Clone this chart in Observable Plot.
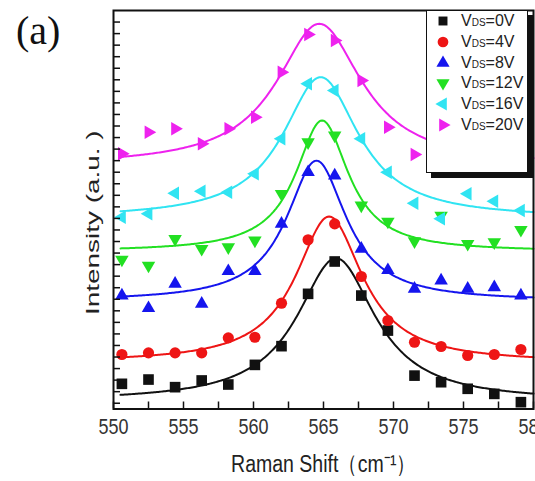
<!DOCTYPE html>
<html><head><meta charset="utf-8">
<script src="https://cdn.jsdelivr.net/npm/d3@7"></script>
<script src="https://cdn.jsdelivr.net/npm/@observablehq/plot@0.6"></script>
<style>
body{margin:0;background:#fff;}
#wrap{position:relative;width:535px;height:481px;overflow:hidden;font-family:"Liberation Sans",Arial,sans-serif;}
#panel{position:absolute;left:16px;top:11px;line-height:1;font-family:"Liberation Serif","Times New Roman",serif;font-size:40px;color:#111;}
#legend{position:absolute;left:426px;top:10px;width:100px;height:161px;border:1.5px solid #111;background:#fff;box-shadow:5px 5px 0 #111;}
.row{position:absolute;left:0;height:20px;display:flex;align-items:center;color:#222;font-size:16px;white-space:nowrap;}
.row svg{margin-left:8px;margin-right:10px;}
.sub{font-size:10px;}
</style></head><body><div id="wrap"><div id="panel">(a)</div></div>
<script>
// ---- data ----
const ramanShift = [550.6, 552.5, 554.4, 556.3, 558.2, 560.1, 562.0, 563.9, 565.8, 567.7, 569.6, 571.5, 573.4, 575.3, 577.2, 579.1];
const vds0  = [1.68, 2.05, 1.39, 1.97, 1.62, 3.32, 4.94, 9.47, 12.27, 9.32, 6.29, 2.39, 1.82, 1.25, 0.81, 0.09];
const vds4  = [4.22, 4.36, 4.36, 4.36, 5.66, 5.71, 8.66, 14.15, 15.53, 10.97, 7.16, 5.28, 4.91, 4.13, 4.22, 4.65];
const vds8  = [9.32, 8.23, 10.34, 8.61, 11.43, 11.43, 15.53, 20.0, 19.71, 13.37, 11.52, 9.90, 10.62, 9.90, 10.04, 9.32];
const vds12 = [12.44, 11.92, 14.23, 13.37, 13.51, 14.09, 18.13, 22.60, 23.18, 17.12, 15.73, 14.03, 16.25, 13.80, 13.94, 15.01];
const vds16 = [16.10, 16.40, 18.18, 18.35, 18.27, 19.86, 22.89, 27.65, 27.07, 22.89, 20.0, 17.32, 15.97, 18.13, 17.49, 16.68];
const vds20 = [21.59, 23.46, 23.76, 22.46, 23.76, 24.76, 28.66, 31.92, 31.40, 27.94, 23.90, 21.53, 20.84, 21.01, 20.75, 21.19];

const seriesLabels = ["0V", "4V", "8V", "12V", "16V", "20V"];
const seriesColors = ["#111111", "#ee1515", "#1515ee", "#22e022", "#30e4f2", "#ee22ee"];

// Lorentzian fit parameters (centre, half width, amplitude, baseline)
const fitCenter = [565.9, 565.4, 564.5, 564.9, 564.8, 564.7];
const fitHWHM   = [3.4, 2.9, 2.6, 2.3, 3.3, 3.7];
const fitAmp    = [12.4, 12.65, 12.17, 11.36, 12.23, 12.31];
const fitBase   = [0.15, 3.51, 8.83, 13.12, 16.0, 20.54];
const fitRange  = [550.5, 580];

const xTickLabels = [550, 555, 560, 565, 570, 575, 580];
const xTicksAll = d3.range(550, 580.01, 2.5);
const yTicks = d3.range(0, 34);

const xLabel = "Raman Shift（cm⁻¹）";
const yLabel = "Intensity (a.u. )";

// ---- symbols ----
function tri(angle) {
  return {draw(ctx, size) {
    const R = Math.sqrt(size / 1.299);
    for (let k = 0; k < 3; k++) {
      const t = (angle + 120 * k) * Math.PI / 180;
      const px = R * Math.sin(t), py = -R * Math.cos(t);
      k ? ctx.lineTo(px, py) : ctx.moveTo(px, py);
    }
    ctx.closePath();
  }};
}
const squareSym = {draw(ctx, size) { const s = Math.sqrt(size) / 2; ctx.rect(-s, -s, 2 * s, 2 * s); }};
const circleSym = {draw(ctx, size) { const r = Math.sqrt(size / Math.PI); ctx.moveTo(r, 0); ctx.arc(0, 0, r, 0, 2 * Math.PI); }};
const symbols = [squareSym, circleSym, tri(0), tri(180), tri(270), tri(90)];
const symbolR = [6, 5.6, 5, 5, 5, 5];

const allSeries = [vds0, vds4, vds8, vds12, vds16, vds20];

const curveX = d3.range(fitRange[0], fitRange[1] + 0.001, 0.1);
const marks = [];
allSeries.forEach((vals, i) => {
  const fit = curveX.map(x => ({x, y: fitBase[i] + fitAmp[i] / (1 + ((x - fitCenter[i]) / fitHWHM[i]) ** 2)}));
  marks.push(Plot.line(fit, {x: "x", y: "y", stroke: seriesColors[i], strokeWidth: 2}));
});
allSeries.forEach((vals, i) => {
  const pts = ramanShift.map((x, j) => ({x, y: vals[j]}));
  marks.push(Plot.dot(pts, {x: "x", y: "y", fill: seriesColors[i], symbol: symbols[i], r: symbolR[i], stroke: "none"}));
});

const W = 535, H = 481, mT = 10, mB = 72.5, mL = 113, mR = 2;
const fh = H - mT - mB, fw = W - mL - mR;

const chart = Plot.plot({
  width: W, height: H,
  marginTop: mT, marginBottom: mB, marginLeft: mL, marginRight: mR,
  style: {fontFamily: "'Liberation Sans', Arial, sans-serif", color: "#333", background: "#fff"},
  x: {domain: [550, 580], axis: null},
  y: {domain: [-0.5, 34], axis: null},
  marks: [
    ...marks,
    Plot.ruleX(xTicksAll, {x: d => d, insetTop: fh - 7, stroke: "#111", strokeWidth: 1.5}),
    Plot.ruleY(yTicks, {y: d => d, insetRight: fw - 7, stroke: "#111", strokeWidth: 1.5}),
    Plot.text(xTickLabels, {x: d => d, text: d => String(d), frameAnchor: "bottom", dy: 18, fontSize: 18, fill: "#333", lineAnchor: "middle"}),
    Plot.text([xLabel], {text: d => d, frameAnchor: "bottom", dy: 55, fontSize: 19.5, fill: "#222", lineAnchor: "middle"}),
    Plot.text([yLabel], {text: d => d, frameAnchor: "left", dx: -20, dy: 13, rotate: -90, fontSize: 18, fill: "#222", textAnchor: "middle", lineAnchor: "middle"}),
    Plot.frame({stroke: "#111", strokeWidth: 2})
  ]
});

const wrap = document.getElementById("wrap");
wrap.insertBefore(chart, wrap.firstChild);

// the reference's lettering is drawn taller than wide: stretch it about its own centre
function stretchText(match, sx, sy) {
  d3.select(chart).selectAll("text").each(function() {
    if (!match(this.textContent)) return;
    const b = this.getBBox();
    const cx = b.x + b.width / 2, cy = b.y + b.height / 2;
    const t = this.getAttribute("transform") || "";
    this.setAttribute("transform", `${t} translate(${cx},${cy}) scale(${sx},${sy}) translate(${-cx},${-cy})`);
  });
}
const tickStrings = xTickLabels.map(String);
stretchText(s => tickStrings.includes(s), 1, 1.2);
stretchText(s => s === xLabel, 1, 1.25);
stretchText(s => s === yLabel, 1.55, 1);

// ---- legend ----
const legend = document.createElement("div");
legend.id = "legend";
seriesLabels.forEach((lab, i) => {
  const row = document.createElement("div");
  row.className = "row";
  row.style.top = (10.2 + 20.7 * i - 10) + "px";
  const svg = d3.create("svg").attr("width", 16).attr("height", 16);
  svg.append("path").attr("transform", "translate(8,8)")
    .attr("d", d3.symbol(symbols[i], i === 0 ? 80 : i === 1 ? 90 : 75)())
    .attr("fill", seriesColors[i]);
  row.appendChild(svg.node());
  const t = document.createElement("span");
  t.innerHTML = 'V<span class="sub">DS</span>=' + lab;
  row.appendChild(t);
  legend.appendChild(row);
});
wrap.appendChild(legend);
</script></body></html>
